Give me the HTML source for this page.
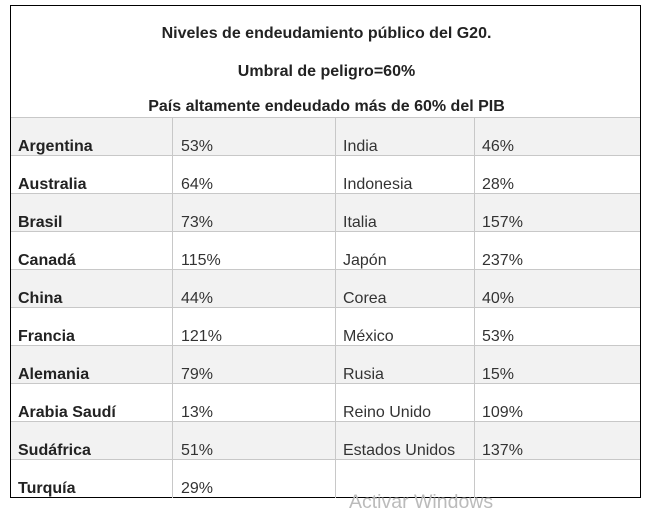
<!DOCTYPE html>
<html><head><meta charset="utf-8"><style>
body{margin:0;background:#fff;width:659px;height:511px;position:relative;font-family:"Liberation Sans",Arial,sans-serif;overflow:hidden}
.box{position:absolute;left:10px;top:5px;width:629px;height:491px;border:1px solid #000}
.t{position:absolute;left:0;width:631px;text-align:center;font-weight:bold;font-size:16px;color:#222}
.row{position:absolute;left:0;width:629px;height:38px;border-top:1px solid #c8c8c8}
.g{background:#f2f2f2}
.c{position:absolute;top:20px;font-size:16px;color:#333}
.b{font-weight:bold;color:#222}
.v{position:absolute;top:112px;width:1px;height:380px;background:#c8c8c8}
.wm{position:absolute;left:349px;top:491px;font-size:19.5px;color:#bbb}
</style></head><body>
<div class="box">
<div class="t" style="top:19px">Niveles de endeudamiento público del G20.</div>
<div class="t" style="top:57px">Umbral de peligro=60%</div>
<div class="t" style="top:92px">País altamente endeudado más de 60% del PIB</div>

<div class="row g" style="top:111px"><span class="c b" style="left:7px">Argentina</span><span class="c" style="left:170px">53%</span><span class="c" style="left:332px">India</span><span class="c" style="left:471px">46%</span></div>
<div class="row" style="top:149px"><span class="c b" style="left:7px">Australia</span><span class="c" style="left:170px">64%</span><span class="c" style="left:332px">Indonesia</span><span class="c" style="left:471px">28%</span></div>
<div class="row g" style="top:187px"><span class="c b" style="left:7px">Brasil</span><span class="c" style="left:170px">73%</span><span class="c" style="left:332px">Italia</span><span class="c" style="left:471px">157%</span></div>
<div class="row" style="top:225px"><span class="c b" style="left:7px">Canadá</span><span class="c" style="left:170px">115%</span><span class="c" style="left:332px">Japón</span><span class="c" style="left:471px">237%</span></div>
<div class="row g" style="top:263px"><span class="c b" style="left:7px">China</span><span class="c" style="left:170px">44%</span><span class="c" style="left:332px">Corea</span><span class="c" style="left:471px">40%</span></div>
<div class="row" style="top:301px"><span class="c b" style="left:7px">Francia</span><span class="c" style="left:170px">121%</span><span class="c" style="left:332px">México</span><span class="c" style="left:471px">53%</span></div>
<div class="row g" style="top:339px"><span class="c b" style="left:7px">Alemania</span><span class="c" style="left:170px">79%</span><span class="c" style="left:332px">Rusia</span><span class="c" style="left:471px">15%</span></div>
<div class="row" style="top:377px"><span class="c b" style="left:7px">Arabia Saudí</span><span class="c" style="left:170px">13%</span><span class="c" style="left:332px">Reino Unido</span><span class="c" style="left:471px">109%</span></div>
<div class="row g" style="top:415px"><span class="c b" style="left:7px">Sudáfrica</span><span class="c" style="left:170px">51%</span><span class="c" style="left:332px">Estados Unidos</span><span class="c" style="left:471px">137%</span></div>
<div class="row" style="top:453px"><span class="c b" style="left:7px">Turquía</span><span class="c" style="left:170px">29%</span></div>

<div class="v" style="left:161px"></div>
<div class="v" style="left:324px"></div>
<div class="v" style="left:463px"></div>
</div>
<div class="wm">Activar Windows</div>
</body></html>
